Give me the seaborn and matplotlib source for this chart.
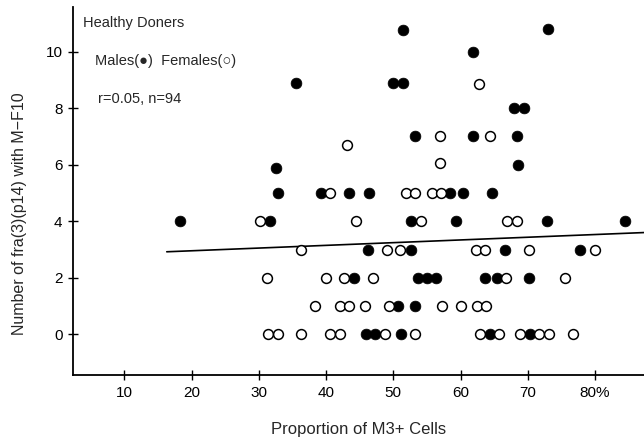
import matplotlib
matplotlib.use("Agg")
import matplotlib.pyplot as plt
import seaborn as sns

# values (x = % M3+ cells, y = number of fra(3)(p14))
males_x = [45.9, 47.3, 51.2, 64.4, 70.3,
           50.7, 53.2,
           44.2, 53.7, 55.0, 56.4, 63.7, 65.4, 70.2,
           46.3, 52.6, 66.6, 77.8,
           18.3, 31.6, 52.6, 59.3, 72.8, 84.5,
           32.8, 39.2, 43.4, 46.4, 58.5, 60.3, 64.7,
           32.6, 68.5,
           53.2, 61.9, 68.4,
           67.9, 69.4,
           35.6, 49.9, 51.4,
           61.8,
           51.5, 73.0]
males_y = [0, 0, 0, 0, 0,
           1, 1,
           2, 2, 2, 2, 2, 2, 2,
           3, 3, 3, 3,
           4, 4, 4, 4, 4, 4,
           5, 5, 5, 5, 5, 5, 5,
           5.9, 6,
           7, 7, 7,
           8, 8,
           8.9, 8.9, 8.9,
           10,
           10.75, 10.8]

females_x = [31.4, 32.9, 36.2, 40.6, 42.1, 48.8, 53.2, 62.9, 65.7, 68.9, 71.7, 73.1, 76.8,
             38.4, 42.0, 43.4, 45.8, 49.3, 57.3, 60.1, 62.4, 63.8,
             31.2, 40.0, 42.6, 47.0, 66.8, 75.6,
             36.3, 49.1, 51.0, 62.3, 63.7, 70.2, 80.0,
             30.1, 44.5, 54.1, 66.9, 68.4,
             40.6, 51.9, 53.3, 55.7, 57.1,
             56.9,
             43.1,
             56.9, 64.4,
             62.8]
females_y = [0] * 13 + [1] * 9 + [2] * 6 + [3] * 7 + [4] * 5 + [5] * 5 + [6.05, 6.7, 7, 7, 8.85]

# regression line as drawn
fit_x = [16.3, 87.3]
fit_y = [2.92, 3.6]

x_ticks = [10, 20, 30, 40, 50, 60, 70, 80]
x_tick_labels = ["10", "20", "30", "40", "50", "60", "70", "80%"]
y_ticks = [0, 2, 4, 6, 8, 10]

sns.set_style("ticks")
plt.rcParams["font.family"] = ["Liberation Sans", "DejaVu Sans"]

fig = plt.figure(figsize=(6.44, 4.42), dpi=100)
ax = fig.add_axes([73 / 644, (442 - 375.3) / 442, (644 - 73) / 644, (375.3 - 7) / 442])

sns.scatterplot(x=males_x, y=males_y, color="black", edgecolor="black",
                s=60, linewidth=0.5, ax=ax, zorder=3)
sns.scatterplot(x=females_x, y=females_y, color="white", edgecolor="black",
                s=50, linewidth=1.1, ax=ax, zorder=3)
sns.lineplot(x=fit_x, y=fit_y, color="black", linewidth=1.2, ax=ax)

ax.set_xlim(2.35, 87.3)
ax.set_ylim(-1.45, 11.58)
ax.set_xticks(x_ticks)
ax.set_xticklabels(x_tick_labels)
ax.set_yticks(y_ticks)
ax.tick_params(direction="inout", length=7, width=1, labelsize=11, pad=4, colors="black")
sns.despine(ax=ax)
for side in ["left", "bottom"]:
    ax.spines[side].set_linewidth(1.3)
    ax.spines[side].set_color("black")

ax.set_xlabel("Proportion of M3+ Cells", fontsize=12, labelpad=16)
ax.set_ylabel("Number of fra(3)(p14) with M\u2212F10", fontsize=11.5)
ax.yaxis.set_label_coords(-0.08, 0.44)

fig.text(83 / 644, 1 - 23 / 442, "Healthy Doners", fontsize=10.5, va="center")
fig.text(95 / 644, 1 - 61 / 442, "Males(\u25cf)  Females(\u25cb)", fontsize=10.5, va="center")
fig.text(98 / 644, 1 - 99 / 442, "r=0.05, n=94", fontsize=10.5, va="center")

fig.savefig("out.png", dpi=100)
